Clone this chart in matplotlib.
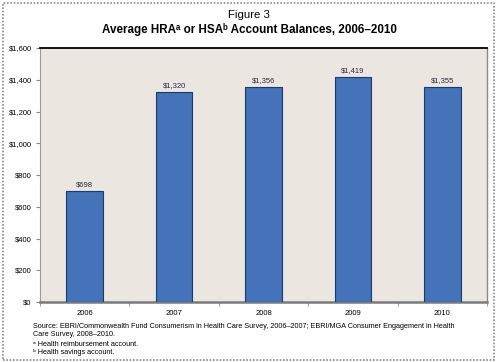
import matplotlib.pyplot as plt
from matplotlib.patches import Rectangle
from matplotlib.ticker import FuncFormatter, FixedLocator

years = ["2006", "2007", "2008", "2009", "2010"]
balances = [698, 1320, 1356, 1419, 1355]
y_ticks = [0, 200, 400, 600, 800, 1000, 1200, 1400, 1600]

plt.rcParams["font.family"] = ["Liberation Sans", "DejaVu Sans"]

fig = plt.figure(figsize=(4.98, 3.62), dpi=100)

# outer dotted frame
fig.patches.append(Rectangle((3 / 498, 2 / 362), 491 / 498, 357 / 362,
                             transform=fig.transFigure, fill=False,
                             edgecolor="#8a8a8a", linewidth=1.2,
                             linestyle=(0, (1, 1))))

ax = fig.add_axes([40 / 498, 1 - 302 / 362, 447 / 498, 254 / 362])
ax.set_facecolor("#ebe7e0")

x = list(range(len(years)))
ax.bar(x, balances, width=0.41, color="#4473ba", edgecolor="#1c3a6a", linewidth=0.8, zorder=3)
for xi, v in zip(x, balances):
    ax.text(xi, v + 20, f"${v:,}", ha="center", va="bottom", fontsize=5.5, color="#2b2b3b")

ax.set_xlim(-0.5, len(years) - 0.5)
ax.set_ylim(0, 1600)
ax.set_yticks(y_ticks)
ax.yaxis.set_major_formatter(FuncFormatter(lambda v, p: f"${int(v):,}"))
ax.set_xticks(x)
ax.set_xticklabels(years)
ax.xaxis.set_minor_locator(FixedLocator([i + 0.5 for i in range(-1, len(years))]))
ax.tick_params(axis="x", which="major", length=0, labelsize=5.5, pad=6)
ax.tick_params(axis="x", which="minor", length=3, color="#888888")
ax.tick_params(axis="y", length=3, color="#888888", labelsize=5.5, pad=3)

ax.spines["top"].set_color("black")
ax.spines["top"].set_linewidth(1.3)
ax.spines["bottom"].set_color("#7a7a7a")
ax.spines["bottom"].set_linewidth(1.8)
ax.spines["right"].set_color("#8a8a8a")
ax.spines["right"].set_linewidth(1.0)
ax.spines["left"].set_color("#9a9a9a")
ax.spines["left"].set_linewidth(0.8)

fig.text(0.5, 1 - 15 / 362, "Figure 3", ha="center", va="center", fontsize=8.2)
fig.text(0.5, 1 - 29 / 362, "Average HRAᵃ or HSAᵇ Account Balances, 2006–2010",
         ha="center", va="center", fontsize=8.35, fontweight="bold")

notes = [
    "Source: EBRI/Commonwealth Fund Consumerism in Health Care Survey, 2006–2007; EBRI/MGA Consumer Engagement in Health",
    "Care Survey, 2008–2010.",
    "ᵃ Health reimbursement account.",
    "ᵇ Health savings account.",
]
for i, line in enumerate(notes):
    fig.text(33 / 498, 1 - (326 + 9 * i) / 362, line, ha="left", va="center", fontsize=5.2)

fig.savefig("out.png", dpi=100)
